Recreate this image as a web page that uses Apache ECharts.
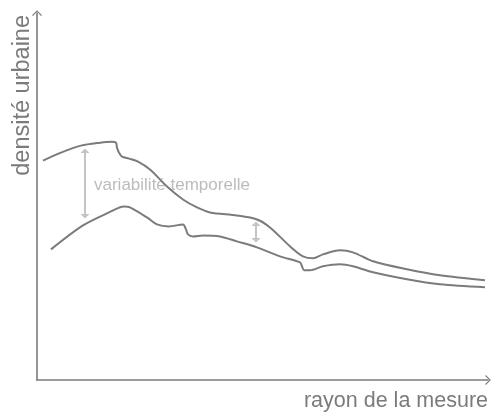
<!DOCTYPE html>
<html>
<head>
<meta charset="utf-8">
<script src="https://cdn.jsdelivr.net/npm/echarts@6/dist/echarts.min.js"></script>
<style>
  html, body { margin: 0; padding: 0; background: #fff; }
  #main { width: 491px; height: 412px; }
</style>
</head>
<body>
<div id="main"></div>
<script>
// sketch values: [rayon, densité] in arbitrary units
const upperCurve = [
  [6, 220], [24, 228], [44, 235], [63, 238],
  [75, 239], [79, 238], [80, 233], [82, 228], [85, 224], [92, 222], [101, 219],
  [113, 211], [130, 194], [146, 181], [160, 173], [173, 168], [200, 165],
  [220, 161], [233, 153], [253, 134], [266, 124], [276, 122], [286, 126],
  [303, 130], [316, 128], [336, 119], [370, 111], [403, 105], [448, 100]
];

const lowerCurve = [
  [14, 131], [46, 155], [72, 168], [87, 174], [93, 173],
  [110, 163], [120, 156], [132, 154], [146, 156], [149, 151], [151, 146],
  [156, 144], [166, 145], [183, 144], [200, 139], [220, 133], [243, 124],
  [263, 118], [265, 114], [267, 110], [273, 110], [286, 114], [303, 116],
  [316, 114], [336, 108], [370, 101], [403, 96], [448, 93]
];

// double arrows showing the spread between the two curves
const spreadArrows = [
  [[48, 227.5], [48, 166.5]],
  [[219, 154.5], [219, 142.5]]
];

const annotation = { text: 'variabilité temporelle', at: [57, 195] };

const xName = 'rayon de la mesure';
const yName = 'densité urbaine';

const ink = '#7b7b7b';
const soft = '#c4c4c4';
const chevron = 'path://M0,10 L10,0 L20,10 L18,11.5 L10,3 L2,11.5 Z';
// triangle in the upper half of its box so the tip sits beyond the end point
const head = 'path://M0,0 L5,-5 L10,0 Z M5,5 L5.01,5 L5,5.01 Z';

var myChart = echarts.init(document.getElementById('main'));

const option = {
  animation: false,
  textStyle: { fontFamily: 'Liberation Sans, Arial, sans-serif' },
  grid: { left: 37, top: 13, width: 451, height: 368 },
  xAxis: {
    type: 'value',
    min: 0,
    max: 451,
    name: xName,
    nameLocation: 'end',
    nameGap: 0,
    nameTextStyle: {
      color: ink, fontSize: 21.5, align: 'right', verticalAlign: 'top',
      padding: [10, 0, 0, 0]
    },
    axisLine: {
      show: true,
      symbol: ['none', chevron],
      symbolSize: [10, 6],
      lineStyle: { color: ink, width: 1.6 }
    },
    axisTick: { show: false },
    axisLabel: { show: false },
    splitLine: { show: false }
  },
  yAxis: {
    type: 'value',
    min: 0,
    max: 368,
    name: yName,
    nameLocation: 'end',
    nameRotate: 90,
    nameGap: -2,
    nameTextStyle: {
      color: ink, fontSize: 23.5, align: 'right', verticalAlign: 'bottom',
      padding: [0, 0, 2, 0]
    },
    axisLine: {
      show: true,
      symbol: ['none', chevron],
      symbolSize: [10, 6],
      lineStyle: { color: ink, width: 1.6 }
    },
    axisTick: { show: false },
    axisLabel: { show: false },
    splitLine: { show: false }
  },
  series: [
    {
      type: 'scatter',
      z: 1,
      symbolSize: 0,
      data: [annotation.at],
      label: {
        show: true,
        position: 'right',
        distance: 0,
        formatter: annotation.text,
        color: '#ababab',
        fontSize: 17
      },
      markLine: {
        silent: true,
        symbol: [head, head],
        symbolSize: 9,
        label: { show: false },
        lineStyle: { color: soft, width: 2, type: 'solid', opacity: 1 },
        emphasis: { disabled: true },
        data: spreadArrows.map(([a, b]) => [{ coord: a }, { coord: b }])
      }
    },
    {
      type: 'line',
      z: 3,
      data: upperCurve,
      smooth: 0.3,
      showSymbol: false,
      lineStyle: { color: ink, width: 2 }
    },
    {
      type: 'line',
      z: 3,
      data: lowerCurve,
      smooth: 0.3,
      showSymbol: false,
      lineStyle: { color: ink, width: 2 }
    }
  ]
};

myChart.setOption(option);
</script>
</body>
</html>
